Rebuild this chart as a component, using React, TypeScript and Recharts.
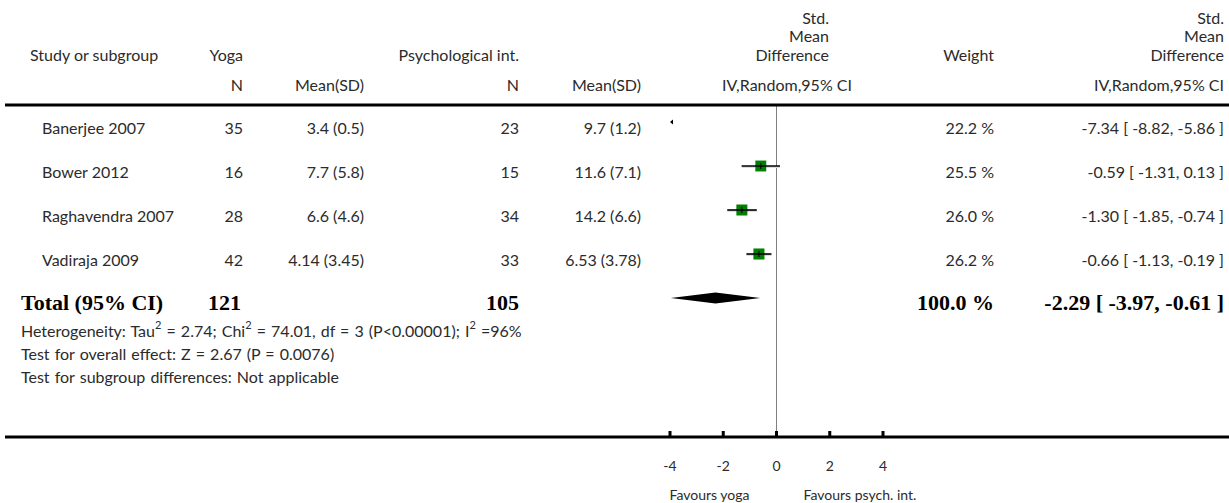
import React from 'react';
import { ComposedChart, Scatter, XAxis, YAxis, ReferenceLine } from 'recharts';

// study rows
const studies = ['Banerjee 2007', 'Bower 2012', 'Raghavendra 2007', 'Vadiraja 2009'];
const yogaN = [35, 16, 28, 42];
const yogaMeanSD = ['3.4 (0.5)', '7.7 (5.8)', '6.6 (4.6)', '4.14 (3.45)'];
const psychN = [23, 15, 34, 33];
const psychMeanSD = ['9.7 (1.2)', '11.6 (7.1)', '14.2 (6.6)', '6.53 (3.78)'];
const weights = [22.2, 25.5, 26.0, 26.2];
const smd = [-7.34, -0.59, -1.3, -0.66];
const ciLow = [-8.82, -1.31, -1.85, -1.13];
const ciHigh = [-5.86, 0.13, -0.74, -0.19];

// pooled
const totalYogaN = 121;
const totalPsychN = 105;
const totalWeight = 100.0;
const totalSmd = -2.29;
const totalLow = -3.97;
const totalHigh = -0.61;

const statLines = [
    ['Heterogeneity: Tau', '2', ' = 2.74; Chi', '2', ' = 74.01, df = 3 (P<0.00001); I', '2', ' =96%'],
    ['Test for overall effect: Z = 2.67 (P = 0.0076)'],
    ['Test for subgroup differences: Not applicable'],
];
const xTicks = [-4, -2, 0, 2, 4];
const xDomain: [number, number] = [-4, 4];

// layout
const W = 1229;
const H = 503;
const PLOT_LEFT = 670;
const PLOT_RIGHT = 883;
const PLOT_TOP = 105;
const PLOT_BOTTOM = 437;
const ROW0 = 122;
const ROW_STEP = 44;
const PX = (PLOT_RIGHT - PLOT_LEFT) / (xDomain[1] - xDomain[0]);
const zeroX = PLOT_LEFT + (0 - xDomain[0]) * PX;
const rowY = (r: number) => ROW0 + r * ROW_STEP;

const SANS = "Lato, 'Open Sans', sans-serif";
const SERIF = "'Liberation Serif', 'DejaVu Serif', serif";
const GREY = '#2b2b2b';

const inRange = studies
    .map((s, i) => ({ name: s, x: smd[i], y: i, lo: ciLow[i], hi: ciHigh[i], w: weights[i] }))
    .filter(d => d.hi >= xDomain[0] && d.lo <= xDomain[1]);
const offLeft = studies
    .map((s, i) => ({ name: s, x: xDomain[0], y: i, hi: ciHigh[i] }))
    .filter(d => d.hi < xDomain[0]);
const pooled = [{ x: totalSmd, y: studies.length, lo: totalLow, hi: totalHigh }];

const StudyMark = (props: any) => {
    const { cx, cy, payload } = props;
    const s = 11 * Math.sqrt(payload.w / 26);
    const x1 = cx - (payload.x - payload.lo) * PX;
    const x2 = cx + (payload.hi - payload.x) * PX;
    return (
        <g>
            <line x1={x1} x2={x2} y1={cy + 1} y2={cy + 1} stroke="#ddd" strokeWidth={2} />
            <rect x={cx - s / 2} y={cy - s / 2} width={s} height={s} fill="#008000" />
            <line x1={x1} x2={x2} y1={cy} y2={cy} stroke="#000" strokeWidth={1.6} />
            <line x1={cx} x2={cx} y1={cy - 3} y2={cy + 3} stroke="#000" strokeWidth={1} />
        </g>
    );
};

const ArrowMark = (props: any) => {
    const { cx, cy } = props;
    return <polygon points={`${cx},${cy} ${cx + 3},${cy - 2.5} ${cx + 3},${cy + 2.5}`} fill="#000" />;
};

const Diamond = (props: any) => {
    const { cx, cy, payload } = props;
    const x1 = cx - (payload.x - payload.lo) * PX;
    const x2 = cx + (payload.hi - payload.x) * PX;
    return <polygon points={`${x1},${cy} ${cx},${cy - 5.5} ${x2},${cy} ${cx},${cy + 5.5}`} fill="#000" />;
};

const AxisTick = (props: any) => {
    const { x, y, payload } = props;
    return (
        <g>
            <rect x={x - 1.5} y={y - 6} width={3} height={6} fill="#000" />
            <text x={x} y={y + 28} textAnchor="middle" dominantBaseline="central" fontFamily={SANS} fontSize={14} fill={GREY}>
                {payload.value}
            </text>
        </g>
    );
};

const T = (p: { x: number; y: number; a?: 'start' | 'end' | 'middle'; children: React.ReactNode; bold?: boolean; size?: number }) => (
    <text
        x={p.x}
        y={p.y}
        textAnchor={p.a || 'end'}
        dominantBaseline="central"
        fontFamily={p.bold ? SERIF : SANS}
        fontWeight={p.bold ? 'bold' : 'normal'}
        fontSize={p.size || (p.bold ? 22 : 16)}
        fill={p.bold ? '#000' : GREY}
    >
        {p.children}
    </text>
);

const fmtCI = (m: number, l: number, h: number) => `${m.toFixed(2)} [ ${l.toFixed(2)}, ${h.toFixed(2)} ]`;

const App = () => {
    return (
        <div style={{ position: 'absolute', left: 0, top: 0, width: W, height: H, background: '#fff' }}>
            <ComposedChart
                width={W}
                height={H}
                margin={{ top: PLOT_TOP, left: PLOT_LEFT, right: W - PLOT_RIGHT, bottom: H - PLOT_BOTTOM - 30 }}
            >
                <XAxis
                    dataKey="x"
                    type="number"
                    domain={xDomain}
                    ticks={xTicks}
                    allowDataOverflow
                    interval={0}
                    axisLine={false}
                    tickLine={false}
                    tickSize={0}
                    tickMargin={0}
                    height={30}
                    tick={<AxisTick />}
                />
                <YAxis
                    dataKey="y"
                    type="number"
                    hide
                    width={0}
                    reversed
                    allowDataOverflow
                    domain={[(PLOT_TOP - ROW0) / ROW_STEP, (PLOT_BOTTOM - ROW0) / ROW_STEP]}
                />
                <ReferenceLine x={0} stroke="#808080" strokeWidth={1} />
                <Scatter data={inRange} shape={<StudyMark />} isAnimationActive={false} />
                <Scatter data={offLeft} shape={<ArrowMark />} isAnimationActive={false} />
                <Scatter data={pooled} shape={<Diamond />} isAnimationActive={false} />
            </ComposedChart>
            <svg width={W} height={H} style={{ position: 'absolute', left: 0, top: 0, pointerEvents: 'none' }}>
                {/* header */}
                <T x={30} y={54} a="start">Study or subgroup</T>
                <T x={243} y={54}>Yoga</T>
                <T x={519} y={54}>Psychological int.</T>
                <T x={829} y={17}>Std.</T>
                <T x={829} y={35}>Mean</T>
                <T x={829} y={54}>Difference</T>
                <T x={994} y={54}>Weight</T>
                <T x={1224} y={17}>Std.</T>
                <T x={1224} y={35}>Mean</T>
                <T x={1224} y={54}>Difference</T>
                <T x={243} y={84}>N</T>
                <T x={364} y={84}>Mean(SD)</T>
                <T x={519} y={84}>N</T>
                <T x={641} y={84}>Mean(SD)</T>
                <T x={852} y={84}>IV,Random,95% CI</T>
                <T x={1224} y={84}>IV,Random,95% CI</T>
                <rect x={5} y={PLOT_TOP - 1.5} width={W - 5} height={3} fill="#000" />
                <rect x={5} y={PLOT_BOTTOM - 1.5} width={W - 5} height={3} fill="#000" />

                {/* study rows */}
                {studies.map((s, i) => (
                    <g key={s}>
                        <T x={42} y={rowY(i) + 5} a="start">{s}</T>
                        <T x={243} y={rowY(i) + 5}>{yogaN[i]}</T>
                        <T x={364} y={rowY(i) + 5}>{yogaMeanSD[i]}</T>
                        <T x={519} y={rowY(i) + 5}>{psychN[i]}</T>
                        <T x={641} y={rowY(i) + 5}>{psychMeanSD[i]}</T>
                        <T x={994} y={rowY(i) + 5}>{weights[i].toFixed(1)} %</T>
                        <T x={1224} y={rowY(i) + 5}>{fmtCI(smd[i], ciLow[i], ciHigh[i])}</T>
                    </g>
                ))}

                {/* total */}
                <T x={21} y={rowY(4) + 4} a="start" bold>Total (95% CI)</T>
                <T x={241} y={rowY(4) + 4} bold>{totalYogaN}</T>
                <T x={519} y={rowY(4) + 4} bold>{totalPsychN}</T>
                <T x={994} y={rowY(4) + 4} bold>{totalWeight.toFixed(1)} %</T>
                <T x={1224} y={rowY(4) + 4} bold>{fmtCI(totalSmd, totalLow, totalHigh)}</T>

                {statLines.map((parts, k) => (
                    <text key={k} x={21} y={330 + k * 23} dominantBaseline="central" fontFamily={SANS} fontSize={16} wordSpacing={1} fill={GREY}>
                        {parts.map((p, j) =>
                            j % 2 === 1 ? (
                                <tspan key={j} fontSize={11} dy={-6}>{p}</tspan>
                            ) : (
                                <tspan key={j} dy={j > 0 ? 6 : 0}>{p}</tspan>
                            )
                        )}
                    </text>
                ))}

                <T x={zeroX - 27} y={494} size={14}>Favours yoga</T>
                <T x={zeroX + 27} y={494} a="start" size={14}>Favours psych. int.</T>
            </svg>
        </div>
    );
};

export default App;
